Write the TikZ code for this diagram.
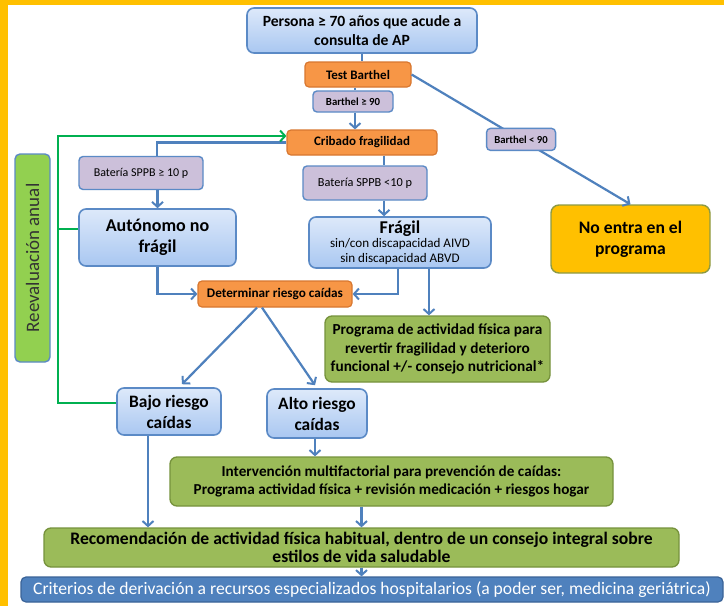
\documentclass[tikz,border=0pt]{standalone}
\usepackage{fontspec}
\setmainfont{Carlito}
\usetikzlibrary{arrows.meta}
\definecolor{frame}{HTML}{FFC000}
\definecolor{bluel}{HTML}{4F81BD}
\definecolor{blueb}{HTML}{5B8AC6}
\definecolor{bluetop}{HTML}{DDE9FA}
\definecolor{bluebot}{HTML}{A9C7F1}
\definecolor{orangef}{HTML}{F79646}
\definecolor{oranged}{HTML}{D8772F}
\definecolor{lavf}{HTML}{CCC0DA}
\definecolor{greenf}{HTML}{9BBB59}
\definecolor{greend}{HTML}{76923C}
\definecolor{greenr}{HTML}{92D050}
\definecolor{greenc}{HTML}{00B050}
\definecolor{goldf}{HTML}{FFC000}
\definecolor{goldd}{HTML}{8C9A44}
\definecolor{critd}{HTML}{3A6398}
\newcommand{\fsz}[2]{\fontsize{#1}{#2}\selectfont}
\tikzset{
  base/.style={align=center, inner sep=0pt, text=black},
  bluebox/.style={base, draw=blueb, line width=1.6pt, rounded corners=7pt, top color=bluetop, bottom color=bluebot},
  orangebox/.style={base, draw=oranged, line width=1.2pt, rounded corners=4pt, fill=orangef},
  lavbox/.style={base, draw=blueb, line width=1.4pt, rounded corners=4pt, fill=lavf},
  greenbox/.style={base, draw=greend, line width=1.3pt, rounded corners=7pt, fill=greenf},
  conn/.style={draw=bluel, line width=2.2pt},
  arr/.style={conn, -{Straight Barb[length=5pt,width=11pt,line width=2pt]}},
  gconn/.style={draw=greenc, line width=2.4pt},
  garr/.style={gconn, -{Straight Barb[length=5pt,width=11pt,line width=2pt]}},
}
\begin{document}
\begin{tikzpicture}[x=1pt,y=-1pt]
\useasboundingbox (0,0) rectangle (724,606);
\fill[white] (0,0) rectangle (724,606);
\fill[frame] (0,0) rectangle (724,5);
\fill[frame] (0,0) rectangle (8,606);

% nodes
\node[bluebox, minimum width=230pt, minimum height=45pt, font=\bfseries\fsz{15.6}{19}] (persona) at (362,30.5) {Persona ≥ 70 años que acude a\\consulta de AP};
\node[orangebox, minimum width=106pt, minimum height=25pt, font=\bfseries\fsz{13}{15}] (test) at (358,74.5) {Test Barthel};
\node[lavbox, minimum width=80pt, minimum height=21pt, font=\bfseries\fsz{10.8}{12}] (bge) at (353,101.5) {Barthel ≥ 90};
\node[orangebox, minimum width=150pt, minimum height=25pt, font=\bfseries\fsz{13}{15}] (cribado) at (362,142.5) {Cribado fragilidad};
\node[lavbox, minimum width=124pt, minimum height=34pt, font=\fsz{12.3}{14}] (sppbl) at (365,183) {Batería SPPB <10 p};
\node[lavbox, minimum width=124pt, minimum height=33pt, font=\fsz{12}{14}] (sppbg) at (141,173) {Batería SPPB ≥ 10 p};
\node[bluebox, minimum width=182pt, minimum height=51pt, font=\fsz{13.1}{14.5}] (fragil) at (400,242.5) {{\bfseries\fsz{18}{19}Frágil}\\sin/con discapacidad AIVD\\sin discapacidad ABVD};
\node[bluebox, minimum width=157pt, minimum height=57pt, font=\bfseries\fsz{18}{21}] (auton) at (157.5,237.5) {Autónomo no\\frágil};
\node[base, draw=blueb, line width=1.4pt, rounded corners=5pt, fill=greenr, rotate=90, minimum width=208pt, minimum height=35pt, font=\fsz{19}{20}, text=black!80] (reeval) at (32.5,258) {Reevaluación anual};
\node[orangebox, minimum width=154pt, minimum height=26pt, font=\bfseries\fsz{13.2}{15}] (determ) at (275,294) {Determinar riesgo caídas};
\node[greenbox, minimum width=225pt, minimum height=66pt, font=\bfseries\fsz{15.3}{18.5}] (prog) at (437.5,349) {Programa de actividad física para\\revertir fragilidad y deterioro\\funcional +/- consejo nutricional*};
\node[base, draw=goldd, line width=1.4pt, rounded corners=8pt, fill=goldf, minimum width=159pt, minimum height=68pt, font=\bfseries\fsz{17.6}{21}] (noentra) at (630.5,239) {No entra en el\\programa};
\node[bluebox, minimum width=104pt, minimum height=47pt, font=\bfseries\fsz{17.4}{21}] (bajo) at (169,411.5) {Bajo riesgo\\caídas};
\node[bluebox, minimum width=100pt, minimum height=49pt, font=\bfseries\fsz{17.4}{21}] (alto) at (317,413.5) {Alto riesgo\\caídas};
\node[greenbox, minimum width=443pt, minimum height=49pt, font=\bfseries\fsz{15.2}{18}] (interv) at (391.5,481.5) {Intervención multifactorial para prevención de caídas:\\Programa actividad física + revisión medicación + riesgos hogar};
\node[greenbox, minimum width=635pt, minimum height=39pt, font=\bfseries\fsz{17.6}{18}] (recom) at (361.5,547.5) {Recomendación de actividad física habitual, dentro de un consejo integral sobre\\estilos de vida saludable};
\node[base, draw=critd, line width=1.2pt, rounded corners=5pt, fill=bluel, minimum width=702pt, minimum height=25pt, font=\fsz{17.6}{19}, text=white] (crit) at (372,589.5) {Criterios de derivación a recursos especializados hospitalarios (a poder ser, medicina geriátrica)};

% connectors
\draw[conn] (persona.south) -- (persona.south |- test.north);
\draw[conn] ([xshift=2pt]bge.north |- test.south) -- ([xshift=2pt]bge.north);
\draw[arr] ([xshift=2pt]bge.south) -- ([xshift=2pt]bge.south |- cribado.north);
\draw[arr] (test.east) -- node[lavbox, pos=0.5, minimum width=69pt, minimum height=22pt, font=\bfseries\fsz{10.7}{12}] (blt) {Barthel < 90} (noentra.north);
\draw[conn] (cribado.west) -| ([xshift=16pt]sppbg.north);
\draw[arr] (auton.north |- sppbg.south) -- (auton.north);
\draw[conn] ([xshift=22pt]cribado.south) -- ([xshift=22pt]cribado.south |- sppbl.north);
\draw[arr] ([xshift=22pt]cribado.south |- sppbl.south) -- ([xshift=22pt]cribado.south |- fragil.north);
\draw[arr] (auton.south) |- (determ.west);
\draw[arr] ([xshift=-2pt]fragil.south) |- (determ.east);
\draw[arr] ([xshift=29pt]fragil.south) -- ([xshift=29pt]fragil.south |- prog.north);
\draw[arr] ([xshift=-18pt]determ.south) -- ([xshift=13pt,yshift=3pt]bajo.north);
\draw[arr] ([xshift=-13pt]determ.south) -- ([xshift=-2pt,yshift=3pt]alto.north);
\draw[arr] ([xshift=-2pt]alto.south) -- ([xshift=-2pt]alto.south |- interv.north);
\draw[arr] ([xshift=-21pt]bajo.south) -- ([xshift=-21pt]bajo.south |- recom.north);
\draw[arr] (recom.north |- interv.south) -- (recom.north);
\draw[arr] (recom.south) -- (recom.south |- crit.north);

% green reevaluation loop
\coordinate (gA) at (58,136);
\draw[garr] ([yshift=8.5pt]bajo.west) -| (gA) -- (gA -| cribado.west);
\draw[gconn] ([yshift=8.5pt]auton.west) -- ([yshift=8.5pt]auton.west -| gA);
\end{tikzpicture}
\end{document}
